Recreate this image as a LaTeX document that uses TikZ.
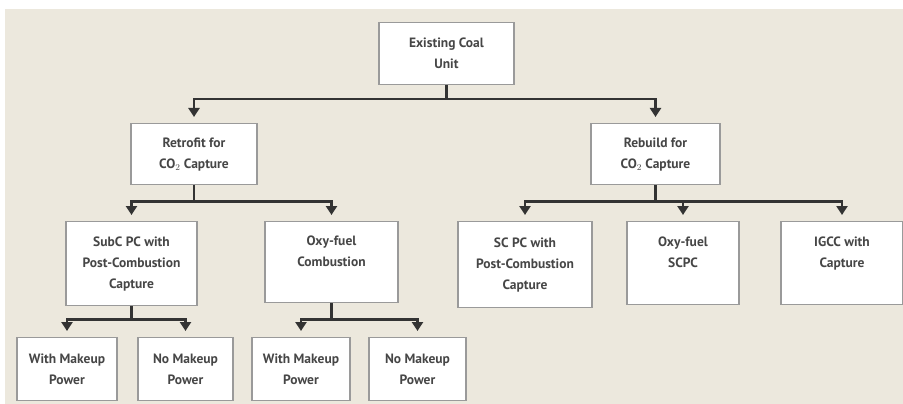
\documentclass[tikz,border=0pt]{standalone}
\usepackage{fontspec}
\setmainfont{PT Sans}
\usetikzlibrary{arrows.meta, positioning}
\definecolor{bgbeige}{HTML}{ECE8DD}
\definecolor{boxgray}{HTML}{9A9A9A}
\definecolor{txtgray}{HTML}{464646}
\definecolor{linegray}{HTML}{333333}

\begin{document}
\begin{tikzpicture}[x=1pt, y=-1pt,
  unit/.style={draw=boxgray, line width=1.3pt, fill=white, text=txtgray,
    font=\fontsize{13.5}{21}\selectfont\bfseries, align=center,
    inner sep=0pt, anchor=north},
  link/.style={line width=2.4pt, draw=linegray, line join=miter,
    -{Triangle[length=9pt,width=11pt]}, shorten >=6pt}]

  \useasboundingbox (0,0) rectangle (903,404);
  \fill[bgbeige] (5,9) rectangle (903,404);

  % ==== Level 1 ====
  \node[unit, minimum width=135pt, minimum height=62pt] (coal) at (446.5,22) {Existing Coal\\Unit};

  % ==== Level 2 ====
  \node[unit, minimum width=126pt, minimum height=61pt] (retro) at (194,123) {Retrofit for\\CO$_2$ Capture};
  \node[unit, minimum width=129pt, minimum height=61pt] (rebuild) at (655.5,123) {Rebuild for\\CO$_2$ Capture};

  % ==== Level 3 ====
  \node[unit, minimum width=131pt, minimum height=84pt] (subc) at (131.5,221) {SubC PC with\\Post-Combustion\\Capture};
  \node[unit, minimum width=133pt, minimum height=81pt] (oxyc) at (331.5,221) {Oxy-fuel\\Combustion\\\phantom{X}};
  \node[unit, minimum width=134pt, minimum height=86pt] (scpc) at (525,221) {SC PC with\\Post-Combustion\\Capture};
  \node[unit, minimum width=112pt, minimum height=83pt] (oxys) at (683,221) {Oxy-fuel\\SCPC\\\phantom{X}};
  \node[unit, minimum width=122pt, minimum height=83pt] (igcc) at (842,221) {IGCC with\\Capture\\\phantom{X}};

  % ==== Level 4 ====
  \node[unit, minimum width=100pt, minimum height=63pt] (wm1) at (67,337) {With Makeup\\Power};
  \node[unit, minimum width=95pt, minimum height=63pt] (nm1) at (185.5,337) {No Makeup\\Power};
  \node[unit, minimum width=98pt, minimum height=63pt] (wm2) at (301,337) {With Makeup\\Power};
  \node[unit, minimum width=97pt, minimum height=63pt] (nm2) at (417.5,337) {No Makeup\\Power};

  % ==== Connectors ====
  \draw[link] (coal.south) -- ++(0,14) -| (retro.north);
  \draw[link] (coal.south) -- ++(0,14) -| (rebuild.north);

  \draw[link] (retro.south) -- ++(0,16) -| (subc.north);
  \draw[link] (retro.south) -- ++(0,16) -| (oxyc.north);

  \draw[link] (rebuild.south) -- ++(0,16) -| (scpc.north);
  \draw[link] (rebuild.south) -- ++(0,16) -| (oxys.north);
  \draw[link] (rebuild.south) -- ++(0,16) -| (igcc.north);

  \draw[link] (subc.south) -- ++(0,13) -| (wm1.north);
  \draw[link] (subc.south) -- ++(0,13) -| (nm1.north);

  \draw[link] (oxyc.south) -- ++(0,16) -| (wm2.north);
  \draw[link] (oxyc.south) -- ++(0,16) -| (nm2.north);
\end{tikzpicture}
\end{document}
